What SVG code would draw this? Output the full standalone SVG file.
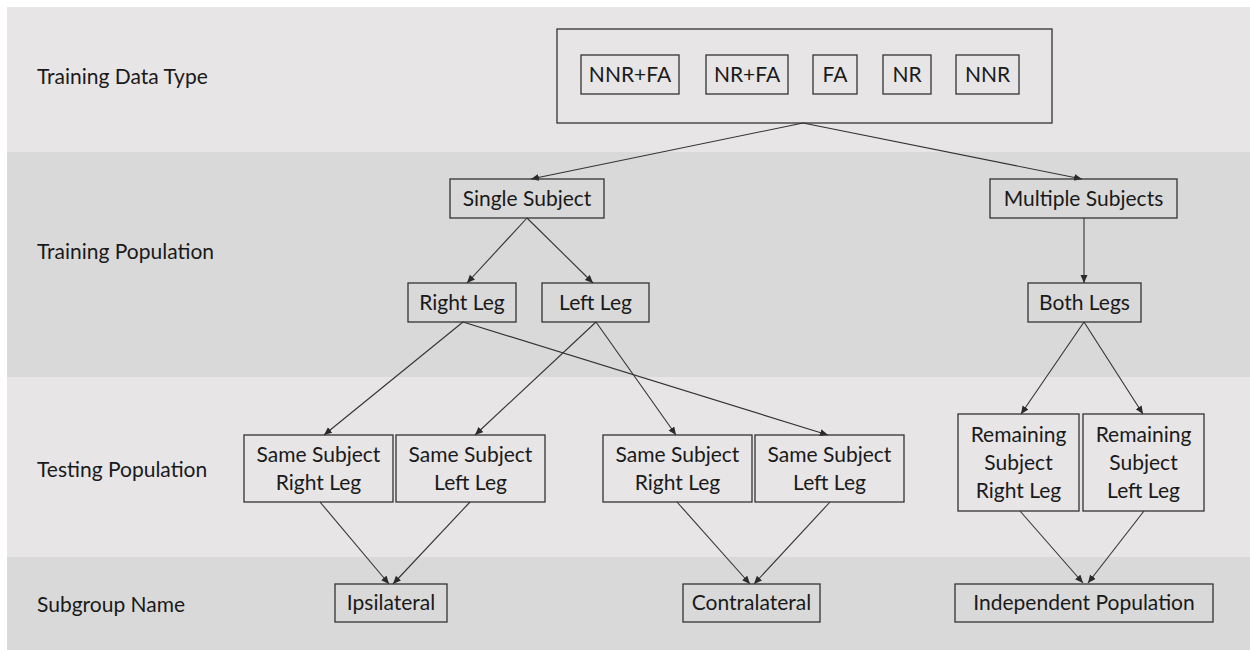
<svg xmlns="http://www.w3.org/2000/svg" width="1250" height="650" viewBox="0 0 1250 650">
<defs>
<marker id="ah" markerUnits="userSpaceOnUse" markerWidth="9" markerHeight="8" refX="8" refY="3.5" orient="auto">
<path d="M0,0 L8,3.5 L0,7 z" fill="#2a2a2a"/>
</marker>
<style>
.band1{fill:#e7e5e6}
.band2{fill:#d9d9d9}
.box{fill:none;stroke:#333;stroke-width:1.3}
.t{font-family:Lato,"Liberation Sans",sans-serif;font-size:21px;fill:#1a1a1a;text-anchor:middle}
.lbl{font-family:Lato,"Liberation Sans",sans-serif;font-size:21px;fill:#1a1a1a}
.c{stroke:#333;stroke-width:1.1;fill:none;marker-end:url(#ah)}
</style>
</defs>
<rect width="1250" height="650" fill="#ffffff"/>
<g id="bands">
<rect class="band1" x="7" y="7" width="1243" height="145"/>
<rect class="band2" x="7" y="152" width="1243" height="225"/>
<rect class="band1" x="7" y="377" width="1243" height="180"/>
<rect class="band2" x="7" y="557" width="1243" height="93"/>
</g>
<g id="row-labels">
<text class="lbl" x="37" y="84">Training Data Type</text>
<text class="lbl" x="37" y="259">Training Population</text>
<text class="lbl" x="37" y="477">Testing Population</text>
<text class="lbl" x="37" y="612">Subgroup Name</text>
</g>
<g id="connectors">
<line class="c" x1="803" y1="123" x2="531" y2="179"/>
<line class="c" x1="803" y1="123" x2="1082" y2="179"/>
<line class="c" x1="527" y1="218" x2="467" y2="283"/>
<line class="c" x1="527" y1="218" x2="593" y2="283"/>
<line class="c" x1="1084" y1="218" x2="1084" y2="283"/>
<line class="c" x1="463" y1="322" x2="324" y2="435"/>
<line class="c" x1="463" y1="322" x2="828" y2="435"/>
<line class="c" x1="596" y1="322" x2="475" y2="435"/>
<line class="c" x1="596" y1="322" x2="676" y2="435"/>
<line class="c" x1="1084" y1="322" x2="1021" y2="414"/>
<line class="c" x1="1084" y1="322" x2="1143" y2="414"/>
<line class="c" x1="320" y1="502" x2="389" y2="584"/>
<line class="c" x1="470" y1="502" x2="393" y2="584"/>
<line class="c" x1="677" y1="502" x2="750" y2="584"/>
<line class="c" x1="830" y1="502" x2="754" y2="584"/>
<line class="c" x1="1020" y1="511" x2="1083" y2="583"/>
<line class="c" x1="1144" y1="511" x2="1088" y2="583"/>
</g>
<g id="training-data-type">
<rect class="box" x="557" y="29" width="495" height="94"/>
<g id="nnr-fa"><rect class="box" x="581" y="55" width="98" height="39"/><text class="t" x="630" y="82">NNR+FA</text></g>
<g id="nr-fa"><rect class="box" x="706" y="55" width="82" height="39"/><text class="t" x="747" y="82">NR+FA</text></g>
<g id="fa"><rect class="box" x="813" y="55" width="44" height="39"/><text class="t" x="835" y="82">FA</text></g>
<g id="nr"><rect class="box" x="883" y="55" width="48" height="39"/><text class="t" x="907" y="82">NR</text></g>
<g id="nnr"><rect class="box" x="956" y="55" width="63" height="39"/><text class="t" x="987.5" y="82">NNR</text></g>
</g>
<g id="single-subject"><rect class="box" x="450" y="179" width="154" height="39"/><text class="t" x="527" y="206">Single Subject</text></g>
<g id="multiple-subjects"><rect class="box" x="990" y="179" width="187" height="39"/><text class="t" x="1083.5" y="206">Multiple Subjects</text></g>
<g id="right-leg"><rect class="box" x="408" y="283" width="108" height="39"/><text class="t" x="462" y="310">Right Leg</text></g>
<g id="left-leg"><rect class="box" x="542" y="283" width="107" height="39"/><text class="t" x="595.5" y="310">Left Leg</text></g>
<g id="both-legs"><rect class="box" x="1028" y="283" width="113" height="39"/><text class="t" x="1084.5" y="310">Both Legs</text></g>
<g id="ss-right-1"><rect class="box" x="244" y="435" width="149" height="67"/><text class="t" x="318.5" y="462">Same Subject</text><text class="t" x="318.5" y="490">Right Leg</text></g>
<g id="ss-left-1"><rect class="box" x="396" y="435" width="149" height="67"/><text class="t" x="470.5" y="462">Same Subject</text><text class="t" x="470.5" y="490">Left Leg</text></g>
<g id="ss-right-2"><rect class="box" x="603" y="435" width="149" height="67"/><text class="t" x="677.5" y="462">Same Subject</text><text class="t" x="677.5" y="490">Right Leg</text></g>
<g id="ss-left-2"><rect class="box" x="755" y="435" width="149" height="67"/><text class="t" x="829.5" y="462">Same Subject</text><text class="t" x="829.5" y="490">Left Leg</text></g>
<g id="rs-right"><rect class="box" x="958" y="414" width="121" height="97"/><text class="t" x="1018.5" y="442">Remaining</text><text class="t" x="1018.5" y="470">Subject</text><text class="t" x="1018.5" y="498">Right Leg</text></g>
<g id="rs-left"><rect class="box" x="1083" y="414" width="121" height="97"/><text class="t" x="1143.5" y="442">Remaining</text><text class="t" x="1143.5" y="470">Subject</text><text class="t" x="1143.5" y="498">Left Leg</text></g>
<g id="ipsilateral"><rect class="box" x="335" y="584" width="112" height="38"/><text class="t" x="391" y="610">Ipsilateral</text></g>
<g id="contralateral"><rect class="box" x="683" y="584" width="137" height="38"/><text class="t" x="751.5" y="610">Contralateral</text></g>
<g id="independent-population"><rect class="box" x="955" y="584" width="258" height="38"/><text class="t" x="1084" y="610">Independent Population</text></g>
</svg>
